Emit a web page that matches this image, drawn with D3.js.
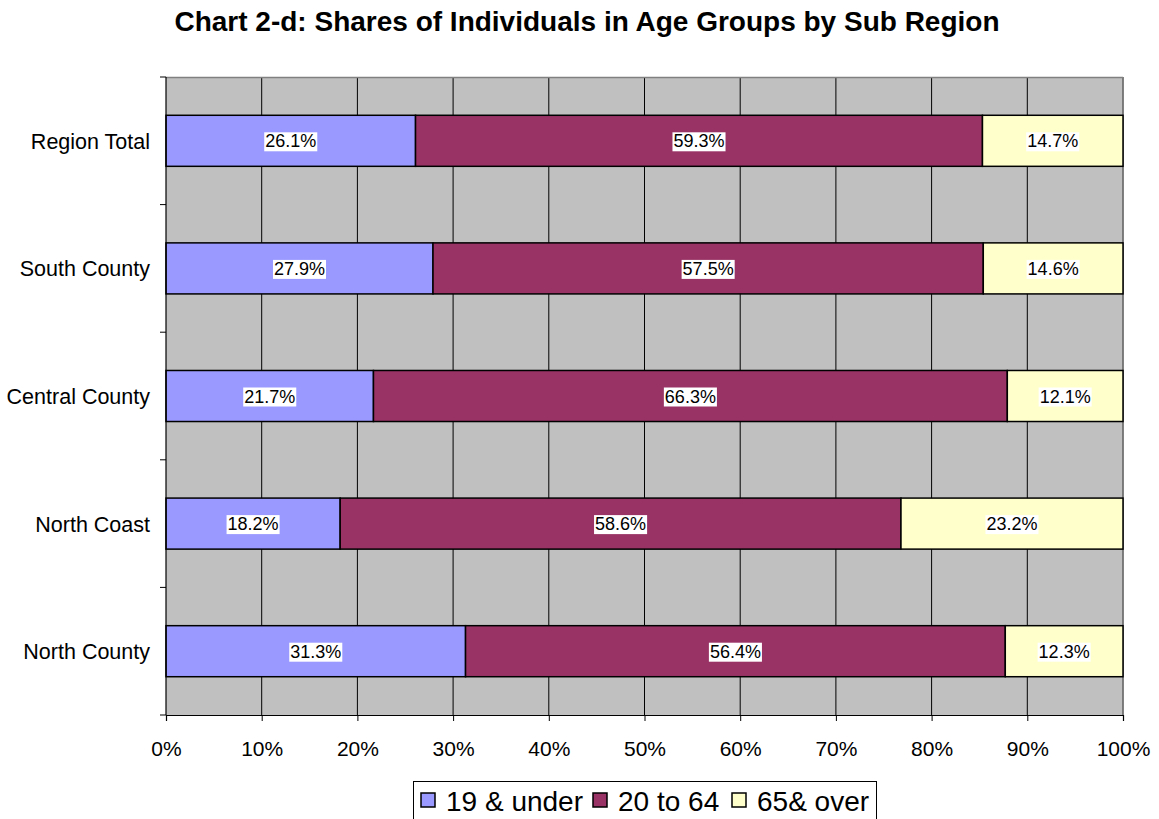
<!DOCTYPE html>
<html>
<head>
<meta charset="utf-8">
<script src="https://cdn.jsdelivr.net/npm/d3@7"></script>
<style>
  body { margin: 0; background: #fff; }
  text { font-family: "Liberation Sans", Arial, sans-serif; }
</style>
</head>
<body>
<svg width="1159" height="819"></svg>
<script>
// chart data
var regions = ["Region Total", "South County", "Central County", "North Coast", "North County"];
var under19 = [26.1, 27.9, 21.7, 18.2, 31.3];
var age20to64 = [59.3, 57.5, 66.3, 58.6, 56.4];
var over65 = [14.7, 14.6, 12.1, 23.2, 12.3];
var seriesNames = ["19 & under", "20 to 64", "65& over"];
var seriesColors = ["#9999ff", "#993366", "#ffffcc"];
var xTicks = [0, 0.1, 0.2, 0.3, 0.4, 0.5, 0.6, 0.7, 0.8, 0.9, 1];

var svg = d3.select("svg");
var plotLeft = 166, plotRight = 1123, plotTop = 77, plotBottom = 715;

var rows = regions.map(function(r, i) {
  return { region: r, a: under19[i], b: age20to64[i], c: over65[i] };
});

// 100% stacked: normalise each row
var stack = d3.stack().keys(["a", "b", "c"]).offset(d3.stackOffsetExpand);
var layers = stack(rows);

var x = d3.scaleLinear().domain([0, 1]).range([plotLeft, plotRight]);
var y = d3.scaleBand().domain(regions).range([plotTop, plotBottom]).paddingInner(0).paddingOuter(0);

// title
svg.append("text")
  .attr("x", 587).attr("y", 31)
  .attr("text-anchor", "middle")
  .attr("font-size", "28px").attr("font-weight", "bold")
  .text("Chart 2-d: Shares of Individuals in Age Groups by Sub Region");

// plot background
svg.append("rect")
  .attr("x", plotLeft).attr("y", plotTop)
  .attr("width", plotRight - plotLeft).attr("height", plotBottom - plotTop)
  .attr("fill", "#c0c0c0");

// vertical gridlines
svg.selectAll(".grid")
  .data(xTicks.slice(1))
  .enter().append("line")
  .attr("x1", function(d) { return x(d); })
  .attr("x2", function(d) { return x(d); })
  .attr("y1", plotTop).attr("y2", plotBottom)
  .attr("stroke", "#000").attr("stroke-width", 1);

// top and right border
svg.append("line")
  .attr("x1", plotLeft).attr("x2", plotRight)
  .attr("y1", plotTop + 0.5).attr("y2", plotTop + 0.5)
  .attr("stroke", "#808080").attr("stroke-width", 1.5);
svg.append("line")
  .attr("x1", plotRight).attr("x2", plotRight)
  .attr("y1", plotTop).attr("y2", plotBottom)
  .attr("stroke", "#808080").attr("stroke-width", 1.5);

// bars
var barH = y.bandwidth() * 0.4;
var groups = svg.selectAll(".layer")
  .data(layers)
  .enter().append("g")
  .attr("fill", function(d, i) { return seriesColors[i]; });

groups.selectAll("rect")
  .data(function(d) { return d; })
  .enter().append("rect")
  .attr("x", function(d) { return x(d[0]); })
  .attr("width", function(d) { return x(d[1]) - x(d[0]); })
  .attr("y", function(d) { return y(d.data.region) + (y.bandwidth() - barH) / 2; })
  .attr("height", barH)
  .attr("stroke", "#000").attr("stroke-width", 1.5);

// data labels with white boxes
layers.forEach(function(layer) {
  layer.forEach(function(d) {
    var val = d.data[layer.key];
    var cx = x((d[0] + d[1]) / 2);
    var cy = y(d.data.region) + y.bandwidth() / 2;
    var g = svg.append("g");
    var t = g.append("text")
      .attr("x", cx).attr("y", cy + 6.5)
      .attr("text-anchor", "middle")
      .attr("font-size", "18px")
      .attr("fill", "#000")
      .text(val.toFixed(1) + "%");
    var bb = t.node().getBBox();
    g.insert("rect", "text")
      .attr("x", bb.x - 1).attr("y", bb.y + 1)
      .attr("width", bb.width + 2).attr("height", bb.height - 1)
      .attr("fill", "#fff");
  });
});

// x axis
var xAxis = d3.axisBottom(x)
  .tickValues(xTicks)
  .tickFormat(d3.format(".0%"))
  .tickSize(6)
  .tickPadding(20);
var gx = svg.append("g")
  .attr("transform", "translate(0," + plotBottom + ")")
  .call(xAxis);
gx.attr("font-size", null).attr("font-family", null);
gx.select(".domain").attr("stroke", "#000").attr("stroke-width", 1.2);
gx.selectAll(".tick line").attr("stroke", "#000");
gx.selectAll("text").attr("font-size", "21px").attr("fill", "#000");

// y axis (ticks at band boundaries)
var yBounds = regions.map(function(r) { return y(r); }).concat([plotBottom]);
svg.append("line")
  .attr("x1", plotLeft).attr("x2", plotLeft)
  .attr("y1", plotTop).attr("y2", plotBottom)
  .attr("stroke", "#000").attr("stroke-width", 1.2);
svg.selectAll(".ytick")
  .data(yBounds)
  .enter().append("line")
  .attr("x1", plotLeft - 6).attr("x2", plotLeft)
  .attr("y1", function(d) { return d; })
  .attr("y2", function(d) { return d; })
  .attr("stroke", "#000");
svg.selectAll(".ylabel")
  .data(regions)
  .enter().append("text")
  .attr("x", 150)
  .attr("y", function(d) { return y(d) + y.bandwidth() / 2 + 8; })
  .attr("text-anchor", "end")
  .attr("font-size", "21.5px")
  .text(function(d) { return d; });

// legend
var legend = svg.append("g");
legend.append("rect")
  .attr("x", 413.5).attr("y", 781.5)
  .attr("width", 463).attr("height", 45)
  .attr("fill", "#fff").attr("stroke", "#000").attr("stroke-width", 1);
var legendX = [421, 593, 732];
seriesNames.forEach(function(name, i) {
  legend.append("rect")
    .attr("x", legendX[i]).attr("y", 793)
    .attr("width", 14).attr("height", 14)
    .attr("fill", seriesColors[i])
    .attr("stroke", "#000").attr("stroke-width", 1.5);
  legend.append("text")
    .attr("x", legendX[i] + 25).attr("y", 811)
    .attr("font-size", "28px")
    .text(name);
});
</script>
</body>
</html>
